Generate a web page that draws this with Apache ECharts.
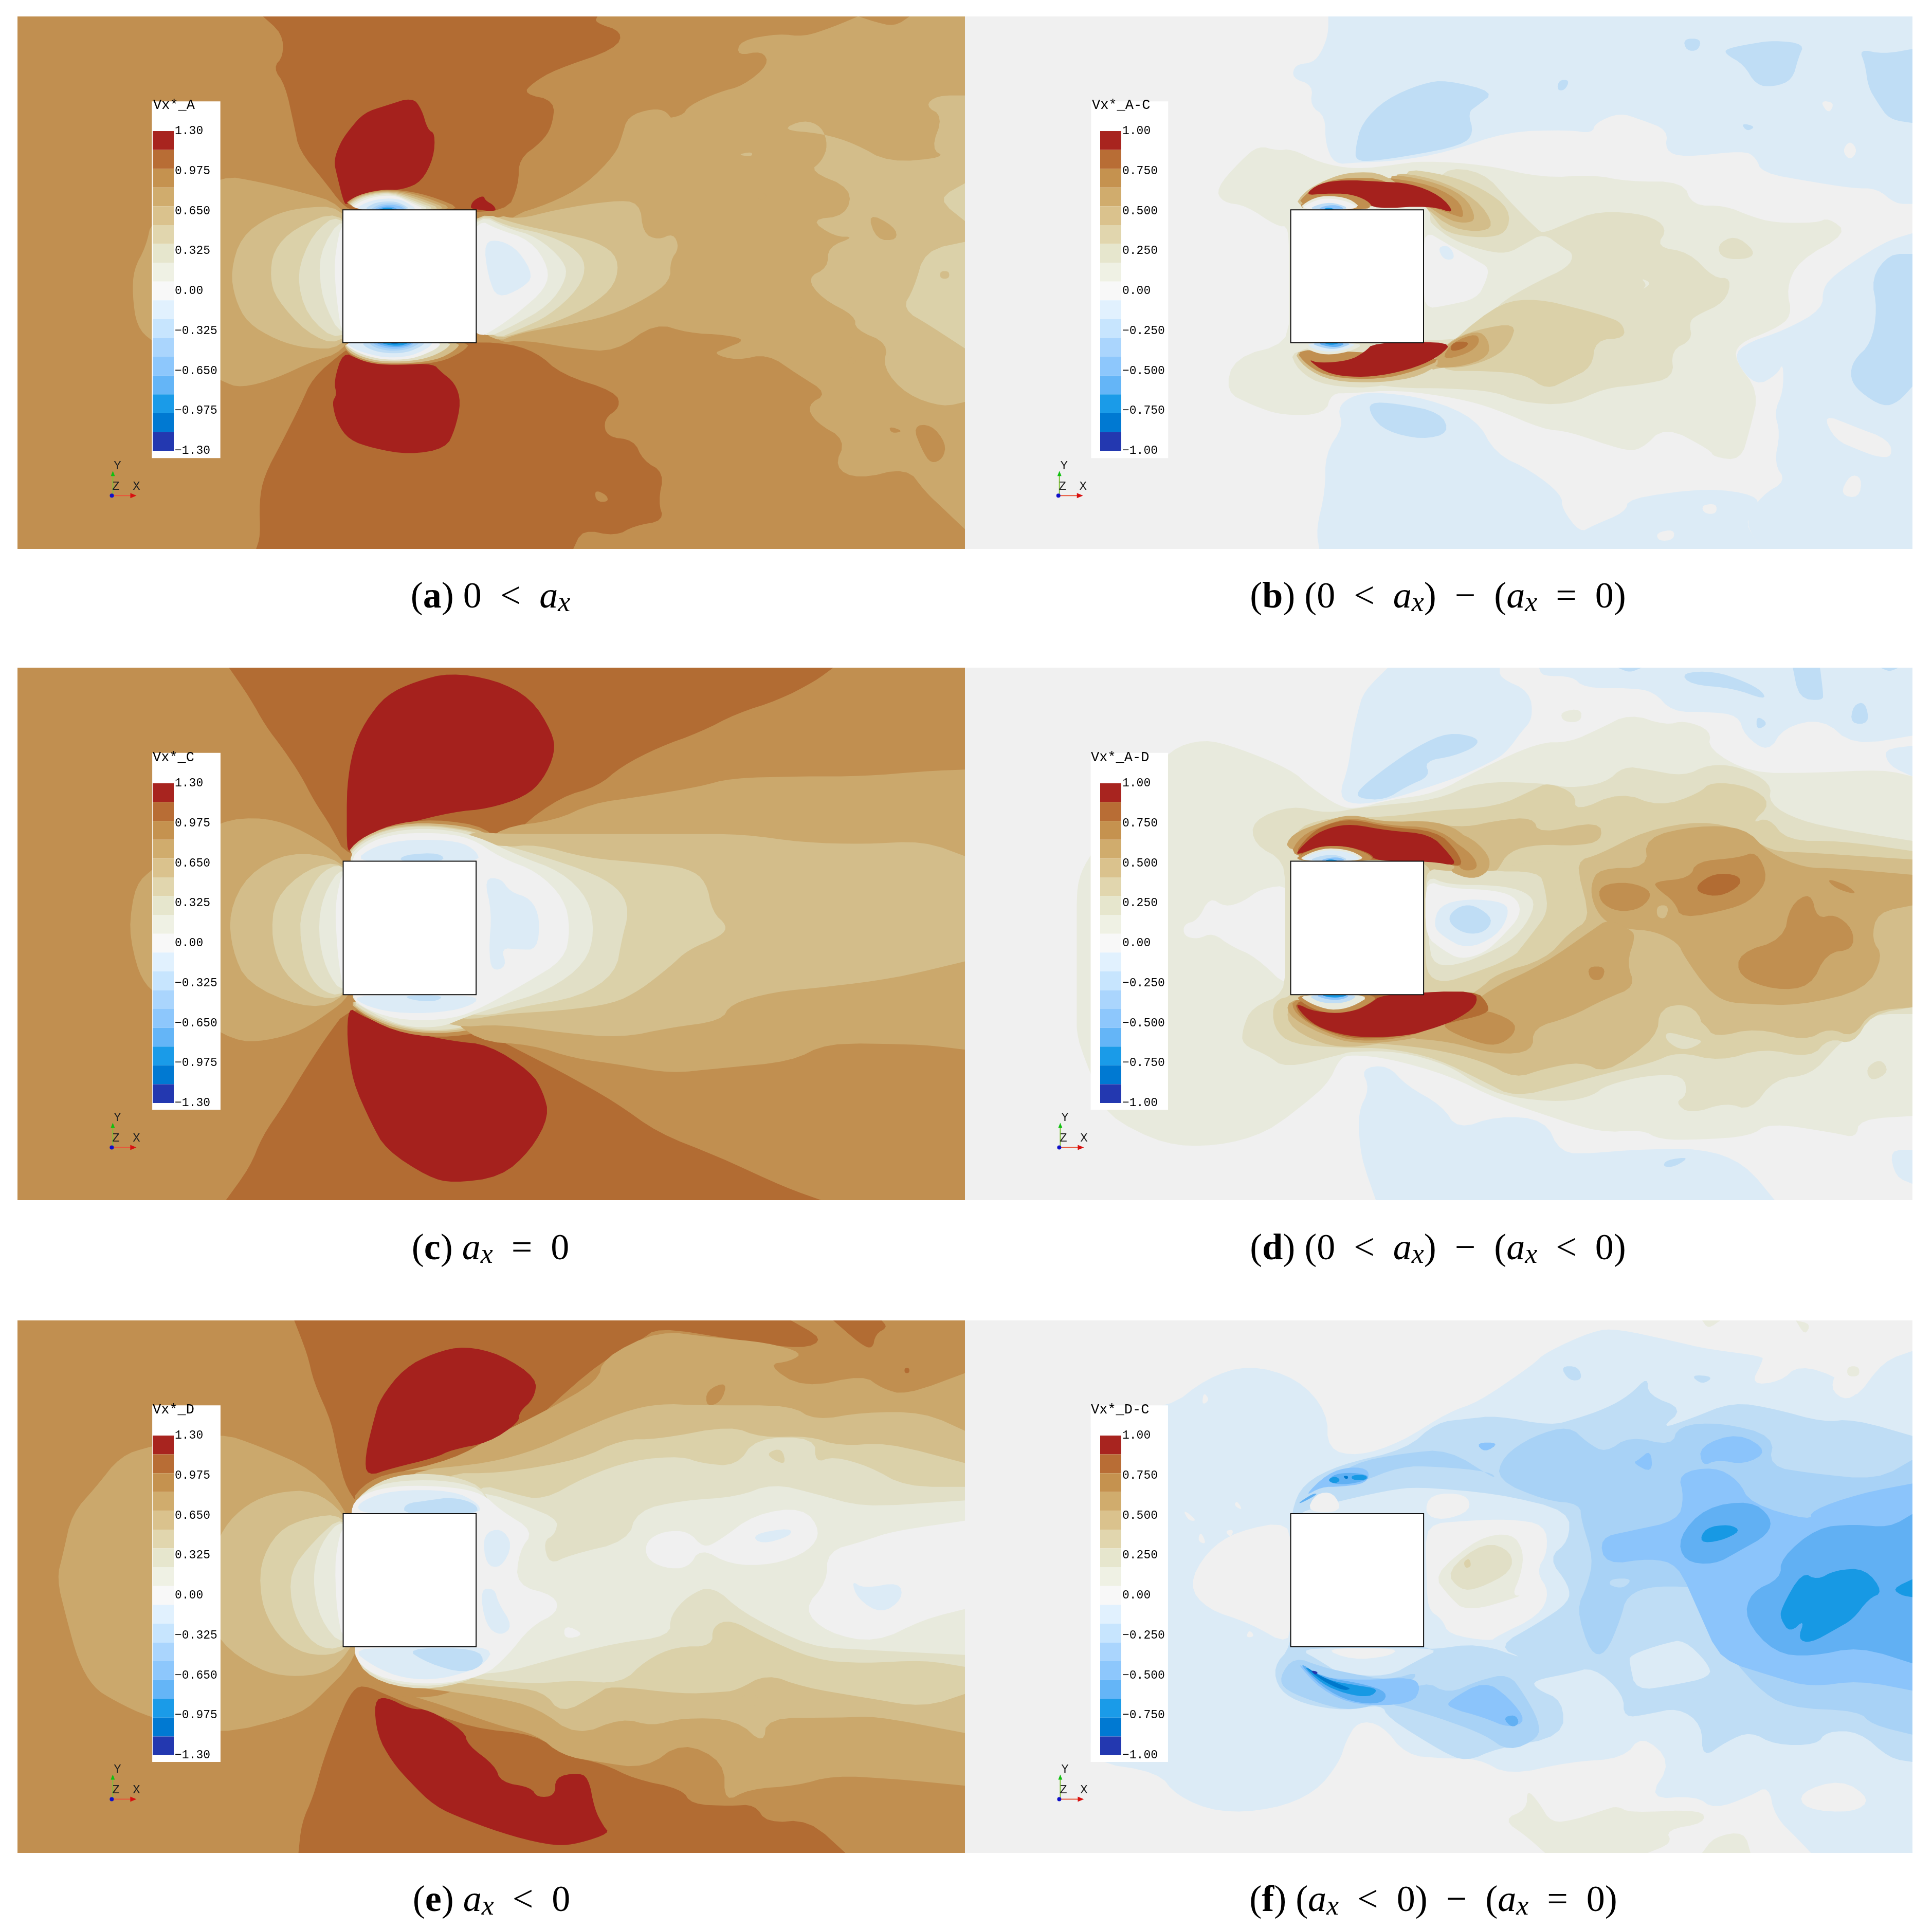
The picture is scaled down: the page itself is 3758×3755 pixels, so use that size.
<!DOCTYPE html>
<html>
<head>
<meta charset="utf-8">
<title></title>
<script src="https://cdn.jsdelivr.net/npm/echarts@6/dist/echarts.min.js"></script>
<style>
  html, body { margin: 0; background: #fff; }
  #chart_box { width: 3758px; height: 3755px; }
</style>
</head>
<body>
<div id="chart_box"></div>
<script>
// colour levels, top of the colour bar first (index 1..17)
var legendColors = ['', '#A8241F', '#B86D35', '#C5924F', '#D0AC6D', '#DAC28D', '#E1D6AE', '#E6E6CD', '#EFF1E4', '#F8F8F8', '#E1F1FE', '#C7E5FE', '#AAD5FD', '#8DC7FC', '#64B5F7', '#1A9BE8', '#0079D2', '#2338B0'];
var fieldColors = ['', '#A5211D', '#B26C33', '#C18F50', '#CBA86C', '#D3BD8A', '#DBD1A9', '#E1DFC6', '#E8EADD', '#F0F0F0', '#DCEBF6', '#BFDDF5', '#A8D2F6', '#8BC4FB', '#61B0F3', '#1799E4', '#0078CC', '#2337AE'];

var ticksVel = ['−1.30', '−0.975', '−0.650', '−0.325', '0.00', '0.325', '0.650', '0.975', '1.30'];
var ticksDiff = ['−1.00', '−0.750', '−0.500', '−0.250', '0.00', '0.250', '0.500', '0.750', '1.00'];

var names = ['Vx*_A', 'Vx*_A-C', 'Vx*_C', 'Vx*_A-D', 'Vx*_D', 'Vx*_D-C'];
var captionText = [
  '{n|(}{b|a}{n|) 0\u2002<\u2002}{i|a}{s|x}',
  '{n|(}{b|b}{n|) (0\u2002<\u2002}{i|a}{s|x}{n|)\u2002−\u2002(}{i|a}{s|x}{n|\u2002=\u20020)}',
  '{n|(}{b|c}{n|) }{i|a}{s|x}{n|\u2002=\u20020}',
  '{n|(}{b|d}{n|) (0\u2002<\u2002}{i|a}{s|x}{n|)\u2002−\u2002(}{i|a}{s|x}{n|\u2002<\u20020)}',
  '{n|(}{b|e}{n|) }{i|a}{s|x}{n|\u2002<\u20020}',
  '{n|(}{b|f}{n|) (}{i|a}{s|x}{n|\u2002<\u20020)\u2002−\u2002(}{i|a}{s|x}{n|\u2002=\u20020)}'
];

// each contour: [level, [x, y, x, y ...]] painted in order over the base level
var baseLevel = [3, 9, 3, 9, 3, 9];

var contoursA = [
[2,[408,10,440,60,442,125,425,160,445,210,460,330,468,400,510,490,540,560,560,575,810,580,830,500,830,425,868,375,885,330,890,255,838,235,852,205,890,165,990,105,1002,55,955,28,960,10]],
[2,[397,1557,404,1520,402,1420,410,1345,440,1245,470,1140,490,1060,540,985,560,965,800,955,860,985,900,1050,990,1100,998,1145,970,1180,975,1232,1020,1240,1035,1300,1070,1335,1060,1420,1070,1475,1020,1490,990,1520,935,1500,920,1557]],
[3,[955,1385,975,1400,978,1420,958,1420]],
[4,[538,555,470,520,400,490,340,472,225,600,215,680,195,745,193,820,200,910,225,955,340,1070,372,1090,430,1062,490,1012,540,985,600,800]],
[4,[815,590,880,555,940,500,990,410,1000,360,1010,300,1050,278,1075,285,1090,335,1060,335,1055,310,1100,300,1110,270,1160,230,1200,212,1243,150,1232,110,1190,125,1195,80,1260,60,1300,70,1350,40,1390,10,1415,25,1450,40,1475,10,1566,10,1566,1500,1530,1440,1500,1390,1470,1320,1390,1355,1350,1320,1370,1240,1320,1190,1305,1140,1340,1105,1290,1050,1240,990,1190,1010,1150,990,1170,975,1205,950,1170,935,1110,930,1055,900,990,985,920,975,840,950,790,960,770,700]],
[3,[1480,1200,1510,1195,1535,1250,1530,1295,1510,1310,1495,1270]],
[3,[1440,1200,1465,1215,1445,1222]],
[4,[1375,995,1390,1015,1372,1025]],
[5,[538,562,470,565,420,590,372,650,355,750,362,830,382,900,430,950,480,975,538,975,600,800]],
[5,[790,585,830,600,890,572,985,545,1030,550,1035,640,1060,660,1085,640,1095,682,1080,720,1080,780,1040,830,980,880,900,910,830,930,790,960,700,800]],
[5,[1262,340,1300,310,1330,330,1340,385,1330,430,1310,460,1380,510,1370,590,1310,600,1350,650,1385,650,1340,680,1340,740,1305,770,1330,830,1385,880,1385,920,1440,960,1430,1030,1470,1110,1530,1145,1566,1130,1566,240,1520,240,1500,270,1530,300,1510,395,1535,420,1440,435,1385,380,1330,350]],
[5,[1190,412,1215,403,1215,418]],
[4,[1405,580,1450,620,1455,660,1420,660]],
[4,[1225,522,1238,525,1238,540,1225,545]],
[6,[1566,665,1500,690,1482,800,1462,860,1510,910,1566,975]],
[6,[1520,540,1566,495,1566,605]],
[5,[1525,750,1540,750,1540,772,1525,772]],
[6,[535,572,460,625,425,690,420,770,430,830,480,930,535,968,600,800]],
[6,[762,575,830,615,900,640,960,665,995,710,990,790,950,850,890,900,830,930,790,950,700,800]],
[7,[535,580,490,640,463,760,480,880,535,960,600,800]],
[7,[765,580,810,620,870,640,920,680,942,730,930,800,880,880,830,920,790,950,700,800]],
[8,[540,585,500,700,505,830,540,950,600,800]],
[8,[765,585,810,625,860,650,905,720,910,770,880,850,820,910,770,950,700,800]],
[9,[540,590,525,720,530,840,540,950,600,800]],
[9,[765,600,790,625,850,660,880,740,875,800,830,870,790,920,762,945,700,800]],
[10,[772,665,800,660,830,690,855,765,835,800,795,830,780,770]],
[1,[542,555,530,470,525,430,535,380,550,340,575,290,610,270,655,245,670,280,680,340,692,350,690,420,670,490,640,513,600,517,565,535,548,555]],
[1,[750,565,755,545,772,530,775,545,790,560,793,578,755,570]],
[1,[540,985,525,1070,530,1110,522,1130,530,1190,550,1240,590,1265,650,1283,710,1265,725,1210,735,1130,725,1075,700,1040,690,1020,640,1020,590,1018,565,1005]],
[3,[540,560,558,535,590,517,625,512,680,528,745,575]],
[4,[541,562,560,533,592,518,625,515,672,532,732,575]],
[5,[543,563,562,534,594,520,625,518,665,536,722,575]],
[6,[544,565,564,536,596,522,625,521,660,540,712,575]],
[7,[545,567,566,538,598,524,625,524,655,544,702,575]],
[8,[547,570,568,541,600,527,625,527,652,547,692,575]],
[9,[550,572,572,544,602,531,628,531,650,550,682,575]],
[10,[556,575,578,550,605,539,632,540,650,555,665,575]],
[11,[572,575,590,553,610,547,632,549,656,575]],
[12,[582,575,598,557,615,552,635,556,650,575]],
[13,[588,575,602,560,620,557,636,562,645,575]],
[14,[592,575,606,563,622,562,635,575]],
[15,[596,575,608,566,620,566,628,575]],
[16,[598,575,606,569,612,575]],
[3,[540,955,545,985,570,1010,600,1022,650,1022,700,1015,738,985,752,955]],
[5,[540,955,548,985,572,1006,603,1018,650,1018,695,1008,726,980,735,955]],
[7,[540,955,552,982,576,1002,606,1013,650,1012,685,1000,712,975,720,955]],
[9,[540,955,556,980,580,997,610,1008,650,1006,675,992,698,972,702,955]],
[10,[542,955,560,978,585,992,612,1002,648,998,668,985,685,968,688,955]],
[11,[570,955,578,972,598,985,625,990,648,985,668,970,678,955]],
[12,[580,955,592,972,615,982,640,980,660,968,668,955]],
[13,[585,955,600,970,625,978,650,970,660,955]],
[14,[590,955,608,968,630,972,650,965,655,955]],
[15,[598,955,612,964,632,968,648,960,650,955]],
[16,[612,955,625,964,640,955]]
];

var contoursB = [
[10,[605,10,605,60,595,110,580,145,550,150,545,190,580,210,575,270,600,300,600,380,615,440,650,435,720,430,800,405,900,345,1000,340,1040,350,1045,320,1085,290,1120,310,1165,340,1160,400,1190,420,1290,400,1310,420,1320,465,1400,490,1470,510,1510,510,1540,555,1568,555,1568,10]],
[9,[1415,255,1440,260,1430,295]],
[9,[1465,370,1478,400,1465,430,1452,400]],
[9,[1090,375,1120,380,1160,395,1150,425,1100,425]],
[10,[640,1115,680,1100,770,1120,850,1180,880,1280,940,1330,990,1400,990,1440,1020,1510,1040,1490,1095,1450,1100,1410,1230,1380,1310,1400,1315,1440,1290,1480,1320,1557,590,1557,585,1500,600,1390,600,1280,630,1200,620,1150]],
[9,[1145,1510,1175,1500,1175,1530,1150,1535]],
[9,[1220,1430,1245,1425,1245,1455,1225,1455]],
[10,[1568,640,1530,660,1490,700,1440,760,1420,800,1420,860,1360,920,1285,965,1275,1010,1310,1085,1345,1050,1355,1015,1355,1100,1340,1160,1350,1220,1340,1310,1360,1360,1320,1400,1290,1480,1320,1557,1568,1557]],
[9,[1420,1165,1470,1200,1530,1240,1535,1290,1510,1290,1480,1270,1440,1240]],
[9,[1465,1340,1485,1350,1480,1410,1448,1400]],
[11,[650,430,650,390,660,320,700,250,760,205,800,195,880,230,850,270,835,290,845,350,825,385,740,415,680,430]],
[11,[1190,75,1220,75,1215,110,1195,110]],
[11,[1260,105,1300,90,1340,80,1390,90,1380,130,1370,195,1340,215,1310,210,1290,150,1260,120]],
[11,[985,195,1003,195,995,225,982,225]],
[11,[1480,105,1520,120,1568,105,1568,320,1530,310,1510,260,1495,215,1490,150]],
[11,[1285,320,1310,330,1295,345]],
[11,[1568,700,1530,700,1500,770,1510,860,1500,960,1470,1010,1465,1060,1480,1100,1520,1145,1545,1130,1568,1085]],
[11,[672,1130,720,1135,790,1160,805,1220,760,1240,700,1215,675,1170]],
[8,[420,510,460,430,490,385,520,400,545,395,590,435,650,455,720,440,760,430,860,440,960,480,1040,470,1100,490,1190,490,1205,560,1260,560,1300,590,1340,610,1410,610,1430,595,1462,640,1380,720,1360,800,1370,880,1340,920,1280,960,1275,1010,1315,1100,1300,1210,1285,1300,1240,1290,1235,1270,1160,1200,1120,1270,1090,1270,1000,1215,960,1210,880,1150,820,1120,720,1095,640,1105,610,1105,600,1165,530,1170,480,1140,435,1100,450,1000,540,960,540,620,520,620,470,560,430,550]],
[9,[762,630,800,670,850,720,870,740,865,780,850,830,800,850,762,860]],
[10,[785,680,805,675,815,715,795,718]],
[7,[790,450,860,460,905,550,950,630,960,640,1000,610,1050,575,1130,585,1165,625,1145,680,1200,695,1240,770,1270,770,1260,840,1210,880,1200,900,1205,950,1170,980,1175,1060,1120,1080,1060,1090,1000,1140,920,1130,880,1100,800,1090,720,1090,650,1070,580,1060,540,990,600,960,800,950,850,940,880,850,950,780,1000,740,1010,700,990,680,960,640,930,670,900,700,860,690,810,660,780,620,770,600]],
[7,[1245,675,1275,645,1308,690,1300,715,1255,715]],
[8,[1120,770,1138,785,1122,805,1130,790]],
[6,[810,950,890,840,950,830,1020,860,1060,880,1090,900,1095,945,1045,950,1040,1030,1000,1065,965,1095,930,1050,870,1040,780,1040]],
[6,[720,450,800,470,860,510,905,570,900,640,860,655,800,640,780,600]],
[5,[700,460,780,480,850,540,880,620,850,638,800,620]],
[4,[690,465,770,485,830,530,850,600,830,612,800,600]],
[3,[640,470,760,490,820,540,830,595,815,590]],
[5,[800,955,850,920,915,900,905,960,880,1000,830,1030,790,1030,770,1040]],
[4,[800,960,850,920,870,950,870,1000,820,1030,770,1030]],
[3,[810,955,850,930,855,960,835,990,790,1010]],
[2,[810,955,838,955,830,975,805,985]],
[5,[548,565,565,520,600,485,640,462,700,465,760,560]],
[3,[552,560,570,522,600,490,640,478,700,482,760,560]],
[7,[540,975,555,1040,600,1085,700,1090,800,1000]],
[5,[545,975,565,1030,610,1070,690,1075,760,1055,800,1000]],
[3,[548,975,570,1025,610,1060,690,1065,750,1040,800,1000]],
[1,[565,530,590,495,630,485,690,490,740,495,790,530,815,585,775,560,680,570,670,545,640,525,600,525]],
[1,[570,1005,590,1018,640,1010,665,985,680,958,810,955,790,995,750,1030,690,1055,640,1058,600,1045]],
[3,[550,572,575,535,610,525,640,530,665,550,680,572]],
[8,[553,572,575,542,600,530,640,538,662,572]],
[9,[556,572,578,548,602,537,640,548,657,572]],
[11,[570,572,590,555,615,550,645,572]],
[13,[585,572,600,560,620,558,635,572]],
[15,[595,572,605,564,618,572]],
[8,[565,958,570,978,600,995,640,985,668,958]],
[10,[568,958,578,975,605,986,635,978,655,958]],
[12,[575,958,590,970,612,978,632,970,645,958]],
[14,[585,958,600,968,620,972,636,958]],
[15,[595,958,610,966,626,958]]
];

var contoursC = [
[2,[350,0,385,90,410,170,440,240,470,320,490,390,520,470,545,560,800,560,830,470,900,380,960,350,1000,290,1060,235,1130,190,1190,135,1260,95,1320,40,1350,0]],
[2,[345,1568,385,1470,405,1380,440,1290,470,1200,510,1090,548,1000,700,1000,800,1100,900,1190,990,1280,1060,1370,1160,1440,1270,1530,1330,1568]],
[1,[545,550,545,350,555,240,575,160,610,80,660,40,715,15,790,35,850,90,885,190,890,250,870,330,840,380,780,415,720,425,640,460,590,490,560,520]],
[1,[548,1000,545,1090,555,1220,585,1340,610,1420,680,1500,720,1518,800,1500,850,1420,880,1320,870,1250,850,1190,780,1110,720,1100,640,1070,590,1040,565,1020]],
[3,[541,555,570,505,615,462,690,445,780,470,800,540]],
[5,[541,556,565,505,615,465,690,455,780,480,790,540]],
[6,[542,560,567,508,618,470,690,462,775,488,790,540]],
[7,[543,562,568,510,618,473,690,465,770,490,790,540]],
[3,[541,975,575,1030,640,1080,720,1090,800,1060,760,1000]],
[5,[541,975,578,1028,640,1072,720,1078,790,1050,760,1000]],
[6,[543,975,582,1026,645,1068,720,1072,780,1045,760,1000]],
[7,[545,975,585,1025,650,1065,720,1068,770,1040,760,1000]],
[4,[540,560,475,480,410,440,335,450,225,590,195,640,184,770,200,900,225,960,360,1100,410,1100,470,1070,520,1010,545,975,600,800]],
[4,[760,540,800,470,890,450,950,400,1030,380,1130,350,1180,325,1300,320,1400,320,1500,305,1568,300,1568,1125,1500,1110,1340,1105,1280,1160,1160,1180,1080,1195,1000,1170,920,1150,850,1110,760,1100,700,1000]],
[5,[540,565,450,540,380,610,350,720,355,830,380,930,470,1000,530,990,600,800]],
[5,[740,480,800,490,900,490,1000,490,1100,490,1200,490,1300,515,1400,520,1500,510,1568,555,1568,865,1450,915,1340,940,1250,955,1180,990,1165,1040,1080,1060,1000,1090,900,1075,800,1050,720,1060,640,1000]],
[6,[540,570,480,590,425,680,420,800,440,900,490,970,540,975,600,800]],
[6,[760,500,800,530,860,520,940,560,1040,575,1110,590,1140,630,1150,720,1175,760,1165,790,1110,830,1080,880,1030,950,985,990,900,1010,800,1020,740,1040,640,1000]],
[7,[540,570,495,610,465,740,475,880,500,950,540,970,600,800]],
[7,[780,510,860,550,960,610,1000,660,1012,720,1000,800,990,900,930,970,830,1000,770,1030,700,1000]],
[8,[540,575,505,670,497,780,510,890,540,965,600,800]],
[8,[545,565,570,515,620,480,690,472,760,495,830,555,900,600,945,680,955,780,940,870,880,950,790,1000,740,1030,700,1060,640,1058,590,1020,545,970,600,800]],
[9,[540,580,525,700,530,850,540,960,600,800]],
[9,[548,570,575,520,620,490,690,485,750,500,800,560,860,600,905,680,915,770,905,860,840,930,770,1000,720,1035,640,1040,580,1010,548,965,600,800]],
[10,[555,572,590,525,650,505,730,510,760,540,765,572]],
[11,[630,572,640,550,700,545,708,572]],
[10,[550,965,580,1000,640,1020,720,1012,762,985,755,965]],
[11,[640,965,650,978,690,985,708,965]],
[10,[772,620,800,620,815,660,850,680,865,740,860,830,830,830,800,825,810,880,785,895,780,830,785,720]]
];

var contoursD = [
[10,[700,0,660,70,650,130,640,210,635,290,618,380,645,405,700,390,770,350,820,320,880,270,900,240,920,190,940,150,935,70,885,30,885,0]],
[10,[950,0,955,25,1005,25,1025,60,1100,60,1140,70,1170,130,1230,130,1280,140,1290,200,1330,250,1355,175,1420,150,1470,230,1568,200,1568,0]],
[10,[1520,240,1568,230,1568,320,1530,290]],
[10,[655,1180,700,1170,730,1230,790,1290,815,1360,880,1320,960,1330,985,1430,1040,1430,1100,1420,1220,1415,1290,1460,1340,1568,680,1568,655,1440,650,1310,670,1240]],
[10,[1530,1420,1568,1420,1568,1520,1540,1500]],
[11,[650,385,650,360,700,290,750,230,800,190,848,205,848,230,810,260,760,275,770,320,730,350,695,390]],
[11,[1185,15,1240,10,1290,40,1320,70,1325,95,1270,60,1200,50]],
[11,[1370,0,1415,0,1420,70,1420,98,1380,90]],
[11,[1470,110,1490,100,1497,165,1465,165]],
[11,[1310,140,1330,165,1310,185]],
[11,[1080,0,1120,0,1100,15]],
[11,[1515,0,1545,0,1530,12]],
[11,[1160,1450,1200,1440,1175,1470,1155,1470]],
[11,[1378,1320,1400,1325,1400,1345,1378,1345]],
[8,[185,640,200,570,340,240,395,210,450,235,540,300,570,350,620,410,650,415,700,390,780,370,850,300,950,220,1000,220,1050,180,1100,135,1160,170,1190,155,1235,185,1230,240,1300,310,1400,310,1520,300,1568,320,1568,1320,1480,1330,1475,1385,1440,1370,1330,1340,1300,1380,1215,1390,1150,1390,1120,1360,1050,1370,880,1270,800,1200,700,1150,640,1140,620,1150,600,1230,500,1370,415,1410,330,1405,235,1320,185,1090,185,1010]],
[8,[985,130,1020,120,1020,160,990,160]],
[9,[539,640,490,650,460,690,430,705,405,675,385,745,362,755,362,790,385,800,410,780,440,820,480,850,539,950]],
[7,[475,450,540,405,600,430,660,410,780,390,850,335,960,340,1000,355,1060,340,1090,290,1130,300,1190,320,1230,285,1280,290,1335,340,1330,400,1380,450,1460,480,1568,510,1568,1020,1500,1020,1460,1090,1440,1120,1400,1200,1340,1210,1300,1305,1260,1280,1200,1315,1175,1280,1195,1260,1190,1200,1130,1200,1060,1230,1040,1260,990,1280,900,1265,850,1230,800,1170,720,1130,640,1130,620,1140,530,1180,500,1140,458,1110,460,1060,475,1000,530,960,530,570,478,520]],
[7,[1490,1180,1515,1150,1530,1190,1500,1220]],
[8,[1340,370,1400,400,1450,380,1500,440,1450,470,1380,440]],
[6,[540,480,600,440,700,440,780,420,880,410,940,360,965,338,1010,370,1010,425,1085,365,1150,410,1215,370,1235,335,1300,350,1335,400,1300,460,1330,440,1360,510,1450,510,1568,540,1568,1000,1500,1020,1470,1110,1430,1090,1400,1150,1320,1120,1250,1160,1180,1130,1135,1165,1060,1195,990,1230,910,1265,860,1220,780,1150,700,1120,630,1120,540,1110,510,1060,510,980,545,965,600,800]],
[7,[1160,1070,1200,1090,1225,1100,1190,1130,1160,1100]],
[5,[850,950,880,900,960,860,1000,780,1035,740,1010,570,1050,550,1125,480,1220,450,1290,480,1330,540,1400,545,1568,565,1568,1000,1500,1010,1470,1090,1430,1060,1390,1100,1310,1060,1240,1090,1225,1050,1190,1010,1150,1000,1145,1090,1060,1195,1020,1160,960,1180,910,1210,860,1160,770,1120,640,1100,650,1070,800,1000]],
[5,[540,500,570,480,640,450,770,460,830,470,880,450,940,440,950,490,1050,450,1055,510,1010,525,950,520,900,540,880,600,860,640,780,640,760,560]],
[5,[540,975,530,1050,590,1110,650,1120,760,1080]],
[6,[1150,1000,1200,990,1225,1050,1190,1080,1160,1070]],
[7,[762,590,800,600,880,600,940,580,975,580,970,650,975,720,950,790,900,860,840,900,790,930,762,900]],
[6,[860,600,940,570,1010,570,1010,660,1035,740,1000,780,960,860,900,870,940,780,965,720,960,650,950,600]],
[8,[762,610,800,640,880,640,930,660,945,700,920,780,880,830,810,880,770,870]],
[9,[762,625,800,650,880,655,915,680,920,730,890,790,860,840,820,860,790,830,762,790]],
[10,[785,700,830,680,895,690,900,730,880,790,830,830,790,790,775,760]],
[11,[800,730,820,700,845,700,875,740,860,780,830,785,805,760]],
[4,[1035,640,1050,590,1130,590,1125,500,1210,465,1290,470,1330,545,1390,590,1440,590,1568,610,1568,700,1510,720,1500,800,1520,850,1490,950,1380,995,1300,990,1260,985,1230,950,1190,850,1180,810,1140,775,1095,770,1060,750,1040,700]],
[4,[810,1030,870,945,960,870,1040,770,1065,740,1100,770,1110,790,1095,870,1110,940,1060,975,1000,1030,940,1060,940,1130,880,1140,800,1100,720,1090,790,1040]],
[4,[690,470,770,470,830,490,868,550,868,600,840,625,800,600,815,585,780,500]],
[4,[528,540,540,490,590,455,640,430,690,455,780,450,830,490,850,580,780,570]],
[4,[540,970,530,1020,590,1080,650,1110,740,1095,800,1060,850,1000]],
[5,[1145,700,1165,700,1160,740,1145,735]],
[3,[1280,840,1355,800,1365,700,1400,660,1410,740,1440,725,1470,770,1470,830,1425,840,1400,940,1340,950,1280,910]],
[3,[1050,640,1100,630,1140,660,1120,710,1080,720,1050,690]],
[3,[1140,630,1200,620,1210,570,1280,560,1310,540,1330,620,1305,680,1270,710,1185,740,1175,690,1145,650]],
[3,[1425,620,1460,640,1478,670,1440,650]],
[3,[1030,880,1060,880,1055,920,1035,920]],
[3,[800,1040,850,1000,910,1040,910,1080,880,1115,840,1100,790,1060]],
[3,[800,500,840,550,850,590,830,600,815,585]],
[3,[535,560,555,495,600,460,640,440,700,465,775,470,820,520,835,590,780,570]],
[3,[540,970,545,1020,595,1075,650,1102,730,1090,790,1050,850,1000]],
[2,[1210,640,1240,605,1280,610,1285,640,1250,675,1215,665]],
[2,[540,560,570,490,600,460,640,445,700,470,780,480,815,540,825,590,780,570]],
[2,[543,975,555,1030,600,1072,650,1095,730,1085,790,1050,866,1020,866,990,845,950]],
[1,[545,550,575,495,605,470,640,460,700,480,770,490,800,545,815,585,770,570,680,570,670,545,630,525,590,525,560,545]],
[1,[545,985,580,1015,640,1015,670,990,690,962,845,950,848,995,810,1040,770,1065,730,1085,650,1090,590,1065,560,1025]],
[3,[543,570,560,545,590,525,630,525,665,545,680,570]],
[8,[548,570,570,545,600,530,640,538,668,570]],
[10,[552,570,574,548,602,535,640,545,660,570]],
[11,[565,570,590,553,615,550,640,570]],
[13,[585,570,600,560,620,558,632,570]],
[15,[593,570,605,563,620,570]],
[3,[545,962,560,990,590,1015,625,1018,660,1000,690,962]],
[8,[550,962,570,988,605,1010,640,1000,675,962]],
[11,[565,962,585,985,615,990,640,980,650,962]],
[13,[575,962,600,978,625,978,640,962]],
[15,[585,962,605,972,625,970,635,962]]
];

var contoursE = [
[2,[458,0,480,100,490,180,520,300,530,400,545,500,575,560,780,480,870,270,960,130,1030,60,1060,20,1200,60,1300,85,1335,55,1280,0]],
[2,[1350,0,1395,70,1415,85,1420,40,1440,20,1430,0]],
[2,[1468,140,1476,140,1476,155,1468,155]],
[2,[465,1568,470,1480,490,1400,505,1300,530,1180,550,1100,570,1070,620,1110,750,1200,860,1220,900,1280,970,1305,1020,1350,1100,1380,1115,1425,1180,1430,1220,1425,1240,1480,1310,1470,1370,1568]],
[4,[540,550,490,440,400,370,335,330,220,370,170,400,130,490,90,570,75,690,65,760,80,870,100,1000,125,1080,160,1120,220,1170,335,1220,470,1160,510,1090,550,1020,600,800]],
[4,[600,460,720,410,790,340,870,270,960,180,970,110,1060,30,1150,50,1240,65,1300,95,1280,120,1240,130,1300,200,1400,160,1430,200,1470,220,1568,155,1568,1370,1450,1350,1350,1340,1290,1370,1210,1380,1170,1420,1170,1300,1100,1240,1040,1320,960,1300,900,1280,860,1220,790,1190,700,1130,620,1090]],
[3,[1140,205,1175,180,1165,240,1140,255]],
[1,[578,460,575,400,590,290,600,230,640,140,690,95,740,75,800,100,860,170,855,230,830,270,830,300,780,360,720,380,690,405,620,435]],
[1,[590,1120,610,1108,650,1145,680,1145,740,1210,745,1250,790,1310,800,1360,850,1375,860,1405,890,1400,890,1345,925,1332,945,1345,955,1440,970,1490,980,1510,930,1540,890,1548,820,1520,740,1470,690,1430,650,1360,620,1300,595,1220]],
[3,[548,1010,590,1085,650,1115,720,1100,800,1000]],
[3,[545,545,580,470,640,440,700,440,760,470,800,560]],
[5,[540,565,490,500,430,505,380,540,340,610,300,800,335,950,400,1030,450,1050,510,1040,545,985,600,800]],
[5,[640,445,780,420,860,380,920,330,1000,270,1060,245,1130,250,1280,250,1320,295,1400,270,1500,270,1568,325,1568,1215,1420,1165,1360,1170,1240,1170,1235,1250,1190,1175,1100,1170,1050,1195,1000,1170,925,1225,860,1140,790,1110,700,1090,620,1070]],
[6,[540,570,480,580,430,620,400,720,405,850,440,950,490,990,545,975,600,800]],
[6,[700,450,800,450,930,410,1000,350,1060,350,1180,310,1230,345,1310,340,1360,370,1440,360,1568,420,1568,1100,1500,1140,1400,1110,1300,1080,1240,1040,1190,1090,1160,1095,1100,1100,980,1075,960,1100,900,1160,870,1090,800,1080,690,1060]],
[5,[1195,1105,1225,1100,1228,1135,1205,1135]],
[7,[540,570,490,650,450,740,455,860,490,960,540,970,600,800]],
[7,[760,480,820,510,870,530,940,460,1020,410,1100,400,1130,420,1190,430,1222,345,1320,345,1320,420,1350,400,1410,430,1470,490,1568,490,1568,1020,1500,1000,1400,1010,1320,1000,1230,930,1180,880,1150,900,1150,960,1090,960,1040,1000,1000,1070,920,1060,860,1070,780,1060,700,1040]],
[6,[1240,390,1265,375,1272,425,1250,410]],
[8,[540,575,500,660,488,760,500,880,540,965,600,800]],
[8,[750,490,895,580,890,630,870,650,880,720,915,690,1010,650,1025,560,1100,530,1190,520,1250,480,1320,510,1400,550,1568,530,1568,985,1400,970,1310,960,1200,860,1150,780,1110,810,1080,870,1080,930,990,950,880,1000,800,1040,720,1040]],
[7,[545,560,585,485,640,450,720,455,780,500,780,1040,690,1090,600,1070,555,1000,600,800]],
[8,[545,560,585,490,640,470,720,472,780,505,780,1040,690,1082,600,1062,555,990,600,800]],
[9,[540,585,525,700,528,850,540,955,600,800]],
[9,[548,560,570,510,630,485,720,490,770,510,800,560,855,620,830,680,825,780,890,810,895,860,850,900,810,990,770,1050,680,1075,590,1050,550,980,600,800]],
[9,[1040,650,1070,620,1110,620,1135,670,1160,650,1220,570,1300,550,1330,620,1310,680,1250,720,1180,720,1130,670,1110,730,1070,730,1040,700]],
[9,[1568,590,1450,620,1400,650,1340,680,1340,770,1300,850,1340,920,1420,950,1500,880,1568,850]],
[9,[905,895,940,925,905,940]],
[10,[560,560,570,530,620,500,720,500,765,540,765,572,600,572]],
[11,[640,572,640,540,680,530,720,520,760,540,762,572]],
[10,[550,965,590,1020,640,1055,700,1058,770,1020,790,960]],
[11,[640,965,680,1010,740,1040,775,1010,760,965]],
[10,[770,630,800,610,820,660,800,730,775,720]],
[10,[765,790,790,790,795,830,820,900,800,930,775,900]],
[10,[1215,630,1280,610,1280,635,1230,660]],
[10,[1380,765,1400,790,1460,770,1465,820,1430,865,1390,820]]
];

var contoursF = [
[10,[336,260,400,170,470,130,550,170,600,270,600,380,650,400,720,360,800,270,850,240,940,130,960,95,1040,30,1080,25,1170,60,1230,85,1320,105,1320,120,1300,190,1350,180,1380,130,1450,170,1470,240,1520,120,1568,90,1568,1568,1400,1568,1380,1530,1340,1460,1330,1370,1300,1400,1240,1440,1210,1400,1130,1410,1170,1300,1120,1220,1090,1290,1000,1300,900,1340,850,1290,790,1290,730,1280,690,1190,650,1180,630,1240,620,1300,580,1390,510,1440,420,1450,350,1400,320,1330,208,1300,208,260]],
[9,[539,590,450,620,400,680,370,780,400,850,470,890,539,960]],
[9,[770,510,830,510,838,560,790,590,760,570]],
[9,[548,560,580,510,640,505,650,570]],
[9,[1450,130,1480,130,1490,190,1460,240,1430,200]],
[9,[1380,1390,1450,1350,1500,1410,1470,1450,1390,1440]],
[8,[890,1470,930,1440,930,1380,950,1420,970,1480,1010,1470,1060,1440,1080,1430,1100,1450,1220,1440,1225,1480,1160,1500,1170,1540,1130,1568,960,1568,930,1520]],
[8,[1220,1568,1240,1520,1290,1505,1300,1568]],
[8,[1220,0,1250,0,1230,25]],
[8,[1375,0,1400,10,1390,45]],
[8,[1460,135,1480,135,1480,165,1460,165]],
[9,[450,530,460,560,445,545]],[9,[390,620,400,660,385,650]],[9,[405,725,418,750,405,755]],[9,[470,910,480,930,465,935]],[9,[360,555,385,590,370,590]],
[9,[385,770,395,800,380,810]],[9,[430,620,445,615,440,640]],[9,[395,210,405,235,392,250]],
[11,[540,560,560,480,620,425,730,380,780,300,830,290,880,280,970,310,1010,290,1060,260,1100,220,1130,165,1130,220,1190,260,1150,320,1200,290,1270,240,1340,260,1420,300,1470,290,1568,340,1568,1300,1530,1290,1480,1210,1425,1210,1410,1250,1340,1250,1300,1210,1260,1240,1220,1290,1220,1190,1180,1140,1130,1160,1090,1170,1090,1100,1040,1020,1000,1040,940,1060,945,1085,990,1120,990,1225,880,1260,830,1300,790,1270,700,1170,690,1130,630,1150,560,1130,520,1090,510,1020,540,960]],
[10,[1100,985,1160,950,1190,940,1230,1010,1235,1050,1170,1075,1110,1090,1100,1010]],
[11,[985,135,1015,135,1022,175,1000,178]],
[11,[1200,160,1240,165,1220,190]],
[10,[750,490,880,510,1000,560,1000,650,965,700,1000,780,1000,830,950,890,880,960,930,1000,850,950,770,970,762,960,540,960,540,575,600,540,700,500]],
[9,[762,600,830,590,900,585,960,600,965,680,945,740,968,800,950,870,880,930,870,945,800,925,790,880,765,850]],
[9,[770,510,830,510,838,560,790,590,760,570]],
[9,[580,510,610,505,625,565,565,565]],
[10,[550,965,590,1005,620,1040,700,1050,750,1000,790,965]],
[9,[590,965,640,1000,700,990,720,965]],
[8,[775,750,850,640,905,625,925,680,920,750,905,810,925,810,830,860,800,810]],
[7,[795,740,860,650,905,680,905,740,850,790,820,795]],
[6,[825,710,835,700,838,725,828,730]],
[12,[880,470,890,400,940,340,1000,310,1030,360,1060,390,1100,340,1170,370,1180,310,1250,300,1340,340,1330,430,1400,450,1510,470,1568,410,1568,1220,1500,1190,1480,1150,1360,1140,1310,1080,1240,930,1215,830,1240,790,1140,780,1095,810,1085,880,1060,985,1035,980,1012,850,1030,780,1040,700,1020,590,1018,540,960,530]],
[11,[1070,760,1105,760,1090,790,1065,780]],
[11,[1205,1090,1220,1105,1205,1125]],
[12,[600,490,640,420,730,390,800,380,880,470,870,445,780,430,720,430,650,480]],
[12,[700,1130,760,1060,800,1100,850,1060,900,1040,925,1100,950,1180,950,1230,900,1270,860,1220,800,1180,730,1140]],
[12,[545,990,520,1050,530,1090,590,1130,640,1150,700,1120,760,1030,700,1060,640,1040,590,1020]],
[13,[1180,450,1240,430,1280,470,1300,540,1400,590,1400,560,1480,510,1568,480,1568,1090,1480,1060,1400,1080,1340,1050,1250,1000,1180,720,1135,700,1060,720,1050,640,1100,620,1180,590,1190,520]],
[13,[1215,370,1280,330,1330,385,1290,425,1245,410,1220,430]],
[13,[1115,410,1135,380,1138,450,1105,420]],
[13,[845,360,885,360,860,390]],
[13,[800,1120,860,1060,900,1110,930,1180,900,1200,860,1170,800,1140]],
[14,[1180,640,1225,550,1300,530,1335,580,1330,630,1280,680,1240,720,1190,710]],
[14,[1350,700,1410,610,1470,600,1530,610,1568,570,1568,1010,1480,960,1400,990,1340,980,1290,880,1300,800,1350,760]],
[14,[890,1170,910,1160,918,1185,905,1200]],
[15,[1215,655,1225,610,1265,600,1285,620,1250,650]],
[15,[1350,850,1385,740,1410,765,1440,735,1490,730,1520,800,1495,820,1470,880,1440,910,1400,950,1378,940,1390,880,1365,920,1350,880]],
[15,[1535,790,1568,762,1568,815,1550,810]],
[13,[560,520,600,450,640,430,670,440,665,480,620,490,590,490]],
[14,[598,475,612,452,640,448,668,455,665,472,625,485]],
[15,[600,470,612,458,622,470,612,482]],
[15,[640,455,665,455,665,470,640,470]],
[16,[625,458,635,458,632,470]],
[14,[550,540,575,510,585,510,560,535]],
[13,[545,1000,580,1050,660,1060,740,1050,755,1080,740,1130,650,1135,590,1090]],
[14,[548,1000,590,1050,660,1070,700,1095,690,1130,640,1125,590,1080]],
[15,[555,1010,600,1060,650,1075,685,1085,670,1110,630,1100,590,1070]],
[16,[560,1015,585,1045,625,1075,640,1085,625,1090,590,1060]],
[17,[572,1030,585,1035,580,1045]]
];

var panelContours = [contoursA, contoursB, contoursC, contoursD, contoursE, contoursF];

// axis ranges of each panel, in the units the outlines were read in
var xRanges = [[3.4, 1566], [6, 1568], [0, 1568], [0, 1568], [0, 1568], [0, 1568]];
var yRanges = [[10.5, 1557], [10.5, 1557], [0, 1568], [0, 1568], [0, 1568], [0, 1568]];
// x0, y0, x1, y1
var squares = [[540,572,760,958], [543,572,762,958], [539,570,759,963], [539,570,759,963], [539,569,759,961], [539,569,759,961]];
var boxes = [[225,257,338,1293], [214,257,341,1293], [223,251,336,1302], [208,251,336,1302], [223,250,336,1300], [208,250,336,1300]];
// origin x, origin y of the little axis triad
var triads = [[159,1402], [160,1402], [156,1413], [156,1413], [156,1410], [156,1410]];

var panelLeft = [34, 1877, 34, 1877, 34, 1877];
var panelTop = [32, 32, 1299, 1299, 2569, 2569];
var panelW = 1843, panelH = 1036;
var barTop = [255, 255, 1524, 1524, 2793, 2793];
var barH = 622;
var captionX = [954, 2797, 954, 2797, 956, 2788];
var captionY = [1169, 1169, 2437, 2437, 3705, 3705];
var nameX = [298, 2124, 297, 2122, 297, 2122];
var nameY = [204, 204, 1473, 1473, 2742, 2742];

// rounds outline corners a little when painting; vertices on the panel edge stay put
function roundCorners(flat, xr, yr) {
  var pts = [];
  for (var k = 0; k < flat.length; k += 2) pts.push([flat[k], flat[k + 1]]);
  for (var pass = 0; pass < 2; pass++) {
    var out = [], n = pts.length;
    for (var i = 0; i < n; i++) {
      var p = pts[i], a = pts[(i + n - 1) % n], b = pts[(i + 1) % n];
      if (p[0] <= xr[0] + 1 || p[0] >= xr[1] - 1 || p[1] <= yr[0] + 1 || p[1] >= yr[1] - 1) {
        out.push(p);
        continue;
      }
      var da = Math.hypot(p[0] - a[0], p[1] - a[1]), db = Math.hypot(p[0] - b[0], p[1] - b[1]);
      var ca = Math.min(0.25, 28 / (da || 1)), cb = Math.min(0.25, 28 / (db || 1));
      out.push([p[0] + (a[0] - p[0]) * ca, p[1] + (a[1] - p[1]) * ca]);
      out.push([p[0] + (b[0] - p[0]) * cb, p[1] + (b[1] - p[1]) * cb]);
    }
    pts = out;
  }
  return pts;
}

var grids = [], xAxes = [], yAxes = [], series = [], titles = [];

names.forEach(function (name, p) {
  var isDiff = p % 2 === 1;
  var xr = xRanges[p], yr = yRanges[p];
  // field panel
  grids.push({ left: panelLeft[p], top: panelTop[p], width: panelW, height: panelH });
  xAxes.push({ type: 'value', gridIndex: grids.length - 1, min: xr[0], max: xr[1], show: false });
  yAxes.push({ type: 'value', gridIndex: grids.length - 1, min: yr[0], max: yr[1], inverse: true, show: false });
  var rows = panelContours[p].map(function (r) { return [r[0], roundCorners(r[1], xr, yr)]; });
  var axisIdx = grids.length - 1;
  var sq = squares[p], bx = boxes[p], tr = triads[p];
  series.push({
    type: 'custom',
    xAxisIndex: axisIdx, yAxisIndex: axisIdx,
    coordinateSystem: 'cartesian2d',
    clip: true, silent: true, animation: false, z: 2,
    data: [[0, 0]],
    renderItem: function (params, api) {
      function toPts(flat) {
        var out = [];
        for (var i = 0; i < flat.length; i += 2) out.push(api.coord([flat[i], flat[i + 1]]));
        return out;
      }
      var kids = [{
        type: 'polygon',
        shape: { points: toPts([xr[0], yr[0], xr[1], yr[0], xr[1], yr[1], xr[0], yr[1]]) },
        style: { fill: fieldColors[baseLevel[p]] }
      }];
      rows.forEach(function (r) {
        kids.push({ type: 'polygon', shape: { points: r[1].map(function (q) { return api.coord(q); }) }, style: { fill: fieldColors[r[0]] } });
      });
      // body in the flow, and the white box behind the colour bar
      kids.push({
        type: 'polygon',
        shape: { points: toPts([sq[0], sq[1], sq[2], sq[1], sq[2], sq[3], sq[0], sq[3]]) },
        style: { fill: '#fff', stroke: '#111', lineWidth: 2 }
      });
      kids.push({
        type: 'polygon',
        shape: { points: toPts([bx[0], bx[1], bx[2], bx[1], bx[2], bx[3], bx[0], bx[3]]) },
        style: { fill: '#fff' }
      });
      // axis triad
      var o = api.coord([tr[0], tr[1]]);
      kids.push({ type: 'line', shape: { x1: o[0], y1: o[1], x2: o[0] + 44, y2: o[1] }, style: { stroke: '#E8563A', lineWidth: 2 } });
      kids.push({ type: 'polygon', shape: { points: [[o[0] + 36, o[1] - 5], [o[0] + 48, o[1]], [o[0] + 36, o[1] + 5]] }, style: { fill: '#D81010' } });
      kids.push({ type: 'line', shape: { x1: o[0] + 2, y1: o[1], x2: o[0] + 2, y2: o[1] - 40 }, style: { stroke: '#7FBF3A', lineWidth: 2 } });
      kids.push({ type: 'polygon', shape: { points: [[o[0] - 2, o[1] - 38], [o[0] + 2, o[1] - 48], [o[0] + 6, o[1] - 38]] }, style: { fill: '#10C010' } });
      kids.push({ type: 'circle', shape: { cx: o[0], cy: o[1], r: 4 }, style: { fill: '#1010C8' } });
      [['Y', 11, -58], ['Z', 8, -18], ['X', 48, -18]].forEach(function (t) {
        kids.push({
          type: 'text',
          style: { text: t[0], x: o[0] + t[1], y: o[1] + t[2], font: '24px "Liberation Mono"', fill: '#222', align: 'center', verticalAlign: 'middle' }
        });
      });
      return { type: 'group', children: kids };
    }
  });

  // colour bar, on its own value axis
  var maxVal = isDiff ? 1 : 1.3;
  var labels = isDiff ? ticksDiff : ticksVel;
  grids.push({ left: panelLeft[p] + 263, top: barTop[p], width: 41, height: barH });
  xAxes.push({ type: 'value', gridIndex: grids.length - 1, min: 0, max: 1, show: false });
  yAxes.push({
    type: 'value', gridIndex: grids.length - 1, position: 'right', z: 5,
    min: -maxVal, max: maxVal, interval: maxVal / 4,
    axisLine: { show: false }, axisTick: { show: false }, splitLine: { show: false },
    axisLabel: {
      margin: 2, align: 'left', padding: [0, 0, 17, 0],
      fontFamily: 'Liberation Mono', fontSize: 23, color: '#000',
      formatter: function (v, i) { return labels[i]; }
    }
  });
  var bandIdx = grids.length - 1;
  series.push({
    type: 'custom',
    xAxisIndex: bandIdx, yAxisIndex: bandIdx,
    silent: true, animation: false, z: 4,
    data: legendColors.slice(1).map(function (c, i) { return [i]; }),
    renderItem: function (params, api) {
      var i = api.value(0), step = 2 * maxVal / 17;
      var a = api.coord([0, maxVal - i * step]);
      var b = api.coord([1, maxVal - (i + 1) * step]);
      return { type: 'rect', shape: { x: a[0], y: a[1], width: b[0] - a[0], height: b[1] - a[1] }, style: { fill: legendColors[i + 1] } };
    }
  });

  titles.push({
    text: name, left: nameX[p], top: nameY[p] - 13, z: 6,
    padding: 0,
    textStyle: { fontFamily: 'Liberation Mono', fontSize: 27, fontWeight: 'normal', color: '#000' }
  });
  titles.push({
    text: captionText[p], left: captionX[p], top: captionY[p] - 45, textAlign: 'center', padding: 0,
    textStyle: {
      fontWeight: 'normal',
      rich: {
        n: { fontFamily: 'Liberation Serif', fontSize: 72, fontWeight: 'normal', color: '#000' },
        b: { fontFamily: 'Liberation Serif', fontSize: 72, fontWeight: 'bold', color: '#000' },
        i: { fontFamily: 'Liberation Serif', fontSize: 72, fontWeight: 'normal', fontStyle: 'italic', color: '#000' },
        s: { fontFamily: 'Liberation Serif', fontSize: 54, fontWeight: 'normal', fontStyle: 'italic', color: '#000', verticalAlign: 'bottom', padding: [24, 0, 0, 0] }
      }
    }
  });
});

var myChart = echarts.init(document.getElementById('chart_box'));
myChart.setOption({
  animation: false,
  backgroundColor: '#fff',
  title: titles,
  grid: grids,
  xAxis: xAxes,
  yAxis: yAxes,
  series: series
});
</script>
</body>
</html>
